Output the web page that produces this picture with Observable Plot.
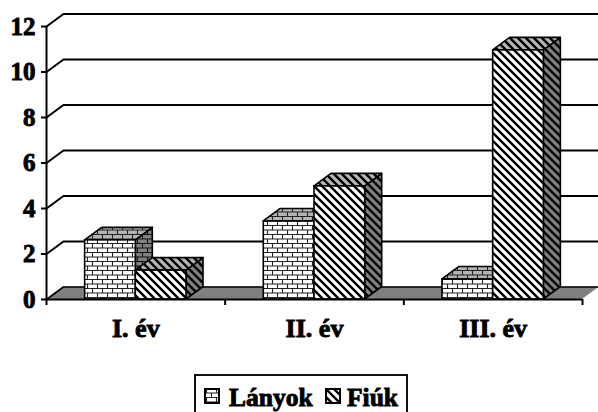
<!DOCTYPE html>
<html><head><meta charset="utf-8">
<script src="https://cdn.jsdelivr.net/npm/d3@7"></script>
<script src="https://cdn.jsdelivr.net/npm/@observablehq/plot@0.6"></script>
<style>
html,body{margin:0;padding:0;background:#fff;height:412px;overflow:hidden}
#wrap{position:relative;width:598px;height:412px;overflow:hidden}
svg text{font-family:"Liberation Serif",serif;font-weight:bold;stroke:#000;stroke-width:.9px}
#legend{position:absolute;left:194px;top:374px;width:214px;height:44px;border:2px solid #111;box-sizing:border-box;
 font:bold 25.5px "Liberation Serif",serif;color:#000;-webkit-text-stroke:.9px #000}
#legend span{position:absolute;top:7px;line-height:30px;white-space:nowrap}
#legend svg{position:absolute;top:12px;width:16px;height:16px}
</style></head><body><div id="wrap"></div>
<script>
const categories = ["I. év", "II. év", "III. év"];
const seriesNames = ["Lányok", "Fiúk"];
const lanyok = [2.6, 3.43, 0.88];
const fiuk = [1.27, 4.97, 10.95];
const yTicks = [0, 2, 4, 6, 8, 10, 12];

// chart geometry in data units
const depthX = 0.095, depthY = 0.55, barW = 0.2838;

const gridRows = yTicks.slice(1).flatMap(v => [
  {v, x: 0, y: v}, {v, x: depthX, y: v + depthY}, {v, x: 3 + depthX, y: v + depthY}
]);

function faces(values, offset) {
  const bars = values.map((v, i) => ({id: i, v, x1: i + 0.5 + offset, x2: i + 0.5 + offset + barW}));
  return {
    front: bars,
    top: bars.flatMap(b => [
      {id: b.id, y: b.v, x1: b.x1, x2: b.x2},
      {id: b.id, y: b.v + depthY, x1: b.x1 + depthX, x2: b.x2 + depthX}]),
    side: bars.flatMap(b => [
      {id: b.id, x: b.x2, y1: 0, y2: b.v},
      {id: b.id, x: b.x2 + depthX, y1: depthY, y2: b.v + depthY}])
  };
}
function barMarks(values, offset, p) {
  const f = faces(values, offset);
  const line = {stroke: "#000", strokeWidth: 1.6};
  return [
    Plot.areaY(f.side, {x: "x", y1: "y1", y2: "y2", z: "id", fill: `url(#${p}-side)`, ...line}),
    Plot.areaX(f.top, {y: "y", x1: "x1", x2: "x2", z: "id", fill: `url(#${p}-top)`, ...line}),
    Plot.rect(f.front, {x1: "x1", x2: "x2", y1: 0, y2: "v", fill: `url(#${p}-front)`, ...line})
  ];
}

const plot = Plot.plot({
  width: 598, height: 345,
  marginLeft: 46, marginRight: 16, marginTop: 26, marginBottom: 46,
  x: {domain: [0, 3]},
  y: {domain: [0, 12]},
  marks: [
    Plot.line(gridRows, {x: "x", y: "y", z: "v", stroke: "#000", strokeWidth: 2}),
    Plot.areaX([{y: 0, x1: 0, x2: 3}, {y: depthY, x1: depthX, x2: 3 + depthX}],
      {y: "y", x1: "x1", x2: "x2", fill: "#808080"}),
    Plot.line([{x: 0, y: 0}, {x: depthX, y: depthY}, {x: 3 + depthX, y: depthY}],
      {x: "x", y: "y", stroke: "#000", strokeWidth: 1.6}),
    ...barMarks(lanyok, -barW, "brick"),
    ...barMarks(fiuk, 0, "hatch"),
    Plot.ruleY([0], {x1: 0, x2: 3, stroke: "#000", strokeWidth: 2}),
    Plot.ruleX([0], {y1: 0, y2: 12, stroke: "#000", strokeWidth: 2}),
    Plot.axisY({ticks: yTicks, tickSize: 5, tickPadding: 6, strokeWidth: 2, fontSize: 25, label: null, tickFormat: d => d}),
    Plot.axisX({ticks: [0, 1, 2, 3], tickSize: 6, strokeWidth: 2, tickFormat: () => "", label: null}),
    Plot.axisX({ticks: categories.map((c, i) => i + 0.5), tickSize: 0, tickPadding: 19, fontSize: 26, label: null,
      tickFormat: d => categories[Math.floor(d)]})
  ]
});

function brick(id, bg, ink) {
  return `<pattern id="${id}" patternUnits="userSpaceOnUse" width="10" height="9">
   <rect width="10" height="9" fill="${bg}"/>
   <path d="M0,.5H10M0,5H10M2.5,0V5M7.5,5V9" stroke="${ink}" stroke-width="1.1" fill="none"/></pattern>`;
}
function hatch(id, bg) {
  return `<pattern id="${id}" patternUnits="userSpaceOnUse" width="8" height="8">
   <rect width="8" height="8" fill="${bg}"/>
   <path d="M-1,-1L9,9M-2,6L2,10M6,-2L10,2" stroke="#000" stroke-width="2.4" fill="none"/></pattern>`;
}
const defs = document.createElementNS("http://www.w3.org/2000/svg", "defs");
defs.innerHTML = brick("brick-front", "#fff", "#222") + brick("brick-top", "#b4b4b4", "#222") + brick("brick-side", "#808080", "#111")
  + hatch("hatch-front", "#fff") + hatch("hatch-top", "#b4b4b4") + hatch("hatch-side", "#808080");
plot.prepend(defs);

const wrap = document.getElementById("wrap");
wrap.appendChild(plot);

const legend = document.createElement("div");
legend.id = "legend";
const place = [[8, 33], [129, 151]];
seriesNames.forEach((name, i) => {
  const p = i === 0 ? "brick-front" : "hatch-front";
  legend.insertAdjacentHTML("beforeend",
    `<svg viewBox="0 0 16 16" style="left:${place[i][0]}px"><rect x="1" y="1" width="14" height="14" fill="url(#${p})" stroke="#000" stroke-width="2"/></svg>
     <span style="left:${place[i][1]}px">${name}</span>`);
});
wrap.appendChild(legend);
</script></body></html>
